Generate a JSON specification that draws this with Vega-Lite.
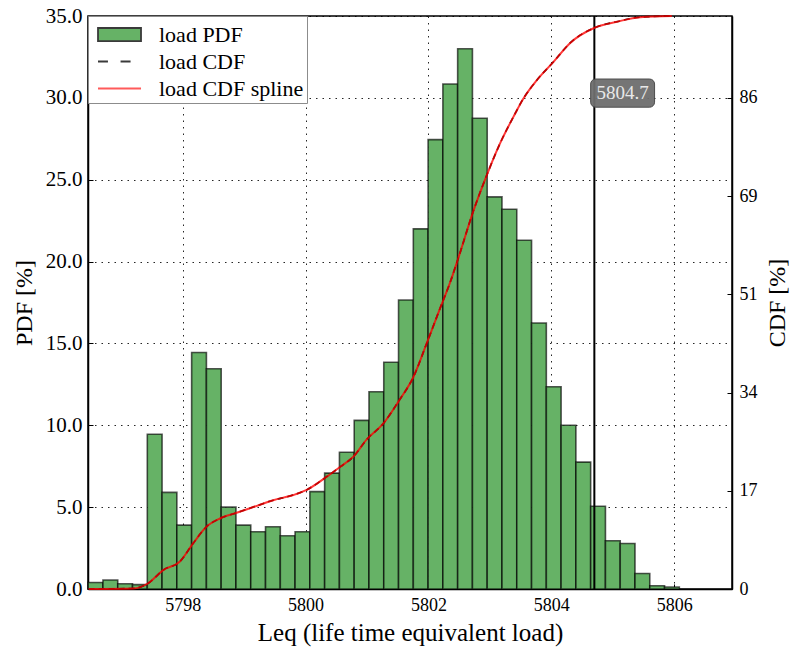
{
  "$schema": "https://vega.github.io/schema/vega-lite/v6.json",
  "width": 644,
  "height": 573,
  "autosize": {"type": "none"},
  "padding": {"left": 88, "top": 16, "right": 61, "bottom": 63},
  "background": "white",
  "config": {
    "view": {"stroke": "black", "strokeWidth": 1.5},
    "font": "Liberation Serif",
    "axis": {
      "labelFont": "Liberation Serif",
      "titleFont": "Liberation Serif",
      "labelFontSize": 18,
      "titleFontSize": 24,
      "titleFontWeight": "normal",
      "labelColor": "black",
      "titleColor": "black",
      "domainColor": "black",
      "domainWidth": 1.5,
      "tickColor": "black",
      "tickWidth": 1,
      "tickSize": -5,
      "labelPadding": 12,
      "gridColor": "black",
      "gridDash": [1.5, 5],
      "gridOpacity": 0.85,
      "gridWidth": 1
    },
    "legend": {
      "labelFont": "Liberation Serif",
      "labelFontSize": 22,
      "labelColor": "black"
    }
  },
  "datasets": {
    "bins": [
      {"x0": 5796.463, "x1": 5796.7035, "pdf": 0.40},
      {"x0": 5796.7035, "x1": 5796.944, "pdf": 0.55},
      {"x0": 5796.944, "x1": 5797.1845, "pdf": 0.32},
      {"x0": 5797.1845, "x1": 5797.425, "pdf": 0.27},
      {"x0": 5797.425, "x1": 5797.6655, "pdf": 9.45},
      {"x0": 5797.6655, "x1": 5797.906, "pdf": 5.90},
      {"x0": 5797.906, "x1": 5798.1465, "pdf": 3.90},
      {"x0": 5798.1465, "x1": 5798.387, "pdf": 14.45},
      {"x0": 5798.387, "x1": 5798.6275, "pdf": 13.45},
      {"x0": 5798.6275, "x1": 5798.868, "pdf": 5.00},
      {"x0": 5798.868, "x1": 5799.1085, "pdf": 3.90},
      {"x0": 5799.1085, "x1": 5799.349, "pdf": 3.50},
      {"x0": 5799.349, "x1": 5799.5895, "pdf": 3.80},
      {"x0": 5799.5895, "x1": 5799.83, "pdf": 3.25},
      {"x0": 5799.83, "x1": 5800.0705, "pdf": 3.50},
      {"x0": 5800.0705, "x1": 5800.311, "pdf": 5.95},
      {"x0": 5800.311, "x1": 5800.5515, "pdf": 7.08},
      {"x0": 5800.5515, "x1": 5800.792, "pdf": 8.35},
      {"x0": 5800.792, "x1": 5801.0325, "pdf": 10.30},
      {"x0": 5801.0325, "x1": 5801.273, "pdf": 12.05},
      {"x0": 5801.273, "x1": 5801.5135, "pdf": 13.85},
      {"x0": 5801.5135, "x1": 5801.754, "pdf": 17.65},
      {"x0": 5801.754, "x1": 5801.9945, "pdf": 22.00},
      {"x0": 5801.9945, "x1": 5802.235, "pdf": 27.45},
      {"x0": 5802.235, "x1": 5802.4755, "pdf": 30.85},
      {"x0": 5802.4755, "x1": 5802.716, "pdf": 33.00},
      {"x0": 5802.716, "x1": 5802.9565, "pdf": 28.75},
      {"x0": 5802.9565, "x1": 5803.197, "pdf": 23.95},
      {"x0": 5803.197, "x1": 5803.4375, "pdf": 23.20},
      {"x0": 5803.4375, "x1": 5803.678, "pdf": 21.30},
      {"x0": 5803.678, "x1": 5803.9185, "pdf": 16.25},
      {"x0": 5803.9185, "x1": 5804.159, "pdf": 12.35},
      {"x0": 5804.159, "x1": 5804.3995, "pdf": 10.00},
      {"x0": 5804.3995, "x1": 5804.64, "pdf": 7.75},
      {"x0": 5804.64, "x1": 5804.8805, "pdf": 5.05},
      {"x0": 5804.8805, "x1": 5805.121, "pdf": 2.95},
      {"x0": 5805.121, "x1": 5805.3615, "pdf": 2.78},
      {"x0": 5805.3615, "x1": 5805.602, "pdf": 0.95},
      {"x0": 5805.602, "x1": 5805.8425, "pdf": 0.20},
      {"x0": 5805.8425, "x1": 5806.083, "pdf": 0.12}
    ],
    "cdf": [
      {"x": 5796.47, "cdf": 0.0},
      {"x": 5797.196, "cdf": 0.1},
      {"x": 5797.44, "cdf": 1.0},
      {"x": 5797.684, "cdf": 3.3},
      {"x": 5797.956, "cdf": 4.8},
      {"x": 5798.173, "cdf": 8.0},
      {"x": 5798.391, "cdf": 10.9},
      {"x": 5798.607, "cdf": 12.3},
      {"x": 5798.879, "cdf": 13.3},
      {"x": 5799.15, "cdf": 14.3},
      {"x": 5799.475, "cdf": 15.5},
      {"x": 5799.801, "cdf": 16.4},
      {"x": 5800.019, "cdf": 17.3},
      {"x": 5800.345, "cdf": 19.6},
      {"x": 5800.561, "cdf": 21.3},
      {"x": 5800.778, "cdf": 23.1},
      {"x": 5800.996, "cdf": 26.1},
      {"x": 5801.267, "cdf": 28.9},
      {"x": 5801.511, "cdf": 32.7},
      {"x": 5801.755, "cdf": 37.0},
      {"x": 5801.973, "cdf": 42.9},
      {"x": 5802.19, "cdf": 49.0},
      {"x": 5802.353, "cdf": 53.5},
      {"x": 5802.488, "cdf": 57.8},
      {"x": 5802.732, "cdf": 66.0},
      {"x": 5802.96, "cdf": 72.5},
      {"x": 5803.167, "cdf": 77.8},
      {"x": 5803.383, "cdf": 82.4},
      {"x": 5803.546, "cdf": 85.6},
      {"x": 5803.764, "cdf": 88.8},
      {"x": 5804.035, "cdf": 92.0},
      {"x": 5804.307, "cdf": 95.3},
      {"x": 5804.714, "cdf": 98.0},
      {"x": 5805.067, "cdf": 99.0},
      {"x": 5805.447, "cdf": 99.8},
      {"x": 5805.96, "cdf": 100.0}
    ],
    "marker": [{"value": 5804.7, "label": "5804.7"}],
    "series": [
      {"series": "load PDF"},
      {"series": "load CDF"},
      {"series": "load CDF spline"}
    ]
  },
  "resolve": {"scale": {"y": "independent"}, "axis": {"y": "independent"}},
  "layer": [
    {
      "layer": [
        {
          "data": {"name": "bins"},
          "mark": {"type": "rect", "fill": "#66b266", "stroke": "black", "strokeOpacity": 0.65, "strokeWidth": 1.6},
          "encoding": {
            "x": {
              "field": "x0", "type": "quantitative",
              "scale": {"domain": [5796.46, 5806.94], "nice": false, "zero": false},
              "axis": {
                "values": [5798, 5800, 5802, 5804, 5806],
                "format": "d",
                "grid": true,
                "title": "Leq (life time equivalent load)",
                "titleFontSize": 25,
                "titlePadding": 6
              }
            },
            "x2": {"field": "x1"},
            "y": {
              "field": "pdf", "type": "quantitative",
              "scale": {"domain": [0, 35], "nice": false},
              "axis": {
                "orient": "left",
                "values": [0, 5, 10, 15, 20, 25, 30, 35],
                "format": ".1f",
                "grid": true,
                "labelFontSize": 21,
                "labelPadding": 11,
                "title": "PDF [%]",
                "titlePadding": 9
              }
            },
            "y2": {"datum": 0}
          }
        },
        {
          "data": {"name": "marker"},
          "mark": {"type": "rule", "color": "black", "strokeWidth": 2},
          "encoding": {
            "x": {"field": "value", "type": "quantitative"}
          }
        },
        {
          "data": {"name": "marker"},
          "mark": {"type": "rect", "fill": "#6e6e6e", "stroke": "#444", "strokeWidth": 1, "opacity": 0.95, "cornerRadius": 5},
          "encoding": {
            "x": {"datum": 5804.64, "type": "quantitative"},
            "x2": {"datum": 5805.68},
            "y": {"datum": 29.43, "type": "quantitative"},
            "y2": {"datum": 31.15}
          }
        },
        {
          "data": {"name": "marker"},
          "mark": {"type": "text", "color": "#e8e8e8", "font": "Liberation Serif", "fontSize": 19, "align": "center", "baseline": "middle"},
          "encoding": {
            "x": {"datum": 5805.16, "type": "quantitative"},
            "y": {"datum": 30.29, "type": "quantitative"},
            "text": {"field": "label"}
          }
        },
        {
          "data": {"name": "series"},
          "mark": {"type": "point", "opacity": 0},
          "encoding": {
            "shape": {
              "field": "series", "type": "nominal",
              "scale": {
                "domain": ["load PDF", "load CDF", "load CDF spline"],
                "range": ["M-0.586,-0.45H2.38V0.45H-0.586Z", "M-0.586,0H0.1M0.97,0H1.66", "M-0.586,0H2.38"]
              },
              "legend": {
                "title": null,
                "orient": "top-left",
                "offset": 0,
                "padding": 3,
                "symbolSize": 841,
                "labelOffset": 37,
                "rowPadding": 0,
                "symbolStrokeWidth": 1.8,
                "symbolOpacity": 1,
                "strokeColor": "#8c8c8c",
                "fillColor": "white",
                "labelFontSize": 22
              }
            },
            "fill": {
              "field": "series", "type": "nominal",
              "scale": {
                "domain": ["load PDF", "load CDF", "load CDF spline"],
                "range": ["#66b266", "transparent", "transparent"]
              },
              "legend": {"title": null}
            },
            "stroke": {
              "field": "series", "type": "nominal",
              "scale": {
                "domain": ["load PDF", "load CDF", "load CDF spline"],
                "range": ["#3a3a3a", "#3a3a3a", "#ff5a5a"]
              },
              "legend": {"title": null}
            }
          }
        }
      ]
    },
    {
      "data": {"name": "cdf"},
      "layer": [
        {
          "mark": {"type": "line", "color": "black", "strokeWidth": 1.6, "strokeDash": [6, 4], "interpolate": "monotone"},
          "encoding": {
            "x": {"field": "x", "type": "quantitative"},
            "y": {
              "field": "cdf", "type": "quantitative",
              "scale": {"domain": [0, 100], "nice": false},
              "axis": {
                "orient": "right",
                "values": [0, 17.142857, 34.285714, 51.428571, 68.571429, 85.714286],
                "format": ".0f",
                "grid": false,
                "title": "CDF [%]",
                "titleAngle": 270,
                "titlePadding": 32
              }
            }
          }
        },
        {
          "mark": {"type": "line", "color": "#ff0000", "strokeWidth": 2, "opacity": 0.78, "interpolate": "monotone"},
          "encoding": {
            "x": {"field": "x", "type": "quantitative"},
            "y": {"field": "cdf", "type": "quantitative"}
          }
        }
      ]
    }
  ]
}
